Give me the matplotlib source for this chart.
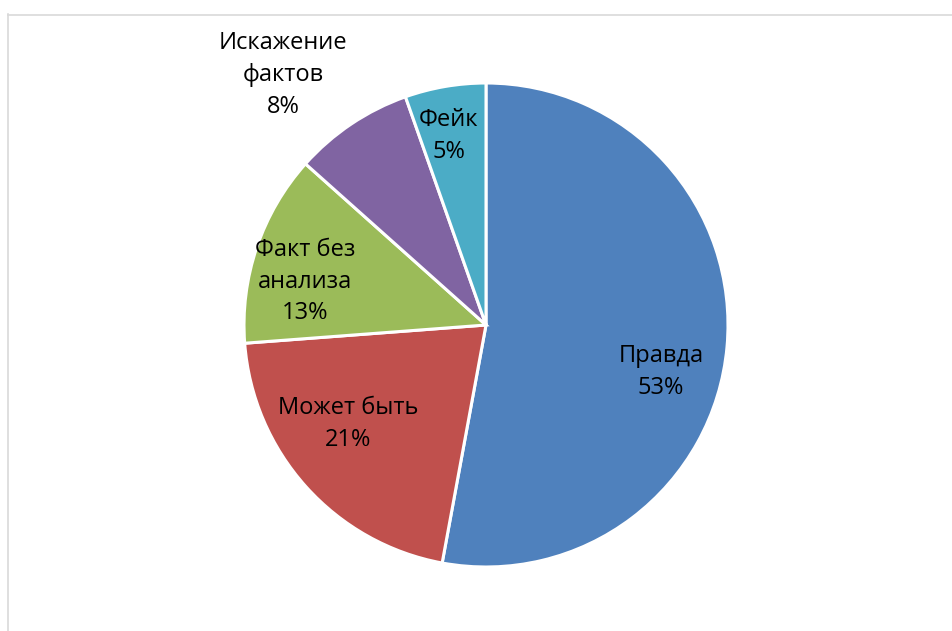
import numpy as np
import matplotlib.pyplot as plt
from matplotlib.lines import Line2D

labels = ["Правда", "Может быть", "Факт без\nанализа", "Искажение\nфактов", "Фейк"]
values = [52.9, 20.9, 12.8, 8.0, 5.4]
colors = ["#4F81BD", "#C0504D", "#9BBB59", "#8064A2", "#4BACC6"]

# label offsets relative to pie centre, in units of radius
label_pos = [(0.723, -0.194), (-0.570, -0.409), (-0.748, 0.178),
             (-0.839, 1.033), (-0.153, 0.781)]

W, H = 953, 631
fig = plt.figure(figsize=(W / 100, H / 100), dpi=100)
ax = fig.add_axes([0, 0, 1, 1])

cx, cy, R = 486, H - 325, 242
ax.pie(values, colors=colors, startangle=90, counterclock=False,
       center=(cx, cy), radius=R, frame=True,
       wedgeprops=dict(edgecolor="white", linewidth=2.2))
ax.set_xlim(0, W)
ax.set_ylim(0, H)
ax.set_aspect("equal")
ax.axis("off")

total = sum(values)
for lab, v, (dx, dy) in zip(labels, values, label_pos):
    ax.text(cx + dx * R, cy + dy * R, f"{lab}\n{round(100 * v / total)}%",
            ha="center", va="center", fontsize=17, family="Open Sans",
            linespacing=1.42, color="black")

# chart frame
fig.add_artist(Line2D([8.5 / W, 8.5 / W], [0, 1 - 14 / H], transform=fig.transFigure,
                      color="#d9d9d9", lw=1.2))
fig.add_artist(Line2D([8 / W, 1], [1 - 14.5 / H, 1 - 14.5 / H], transform=fig.transFigure,
                      color="#d9d9d9", lw=1.2))

fig.savefig("out.png", dpi=100, facecolor="white")
